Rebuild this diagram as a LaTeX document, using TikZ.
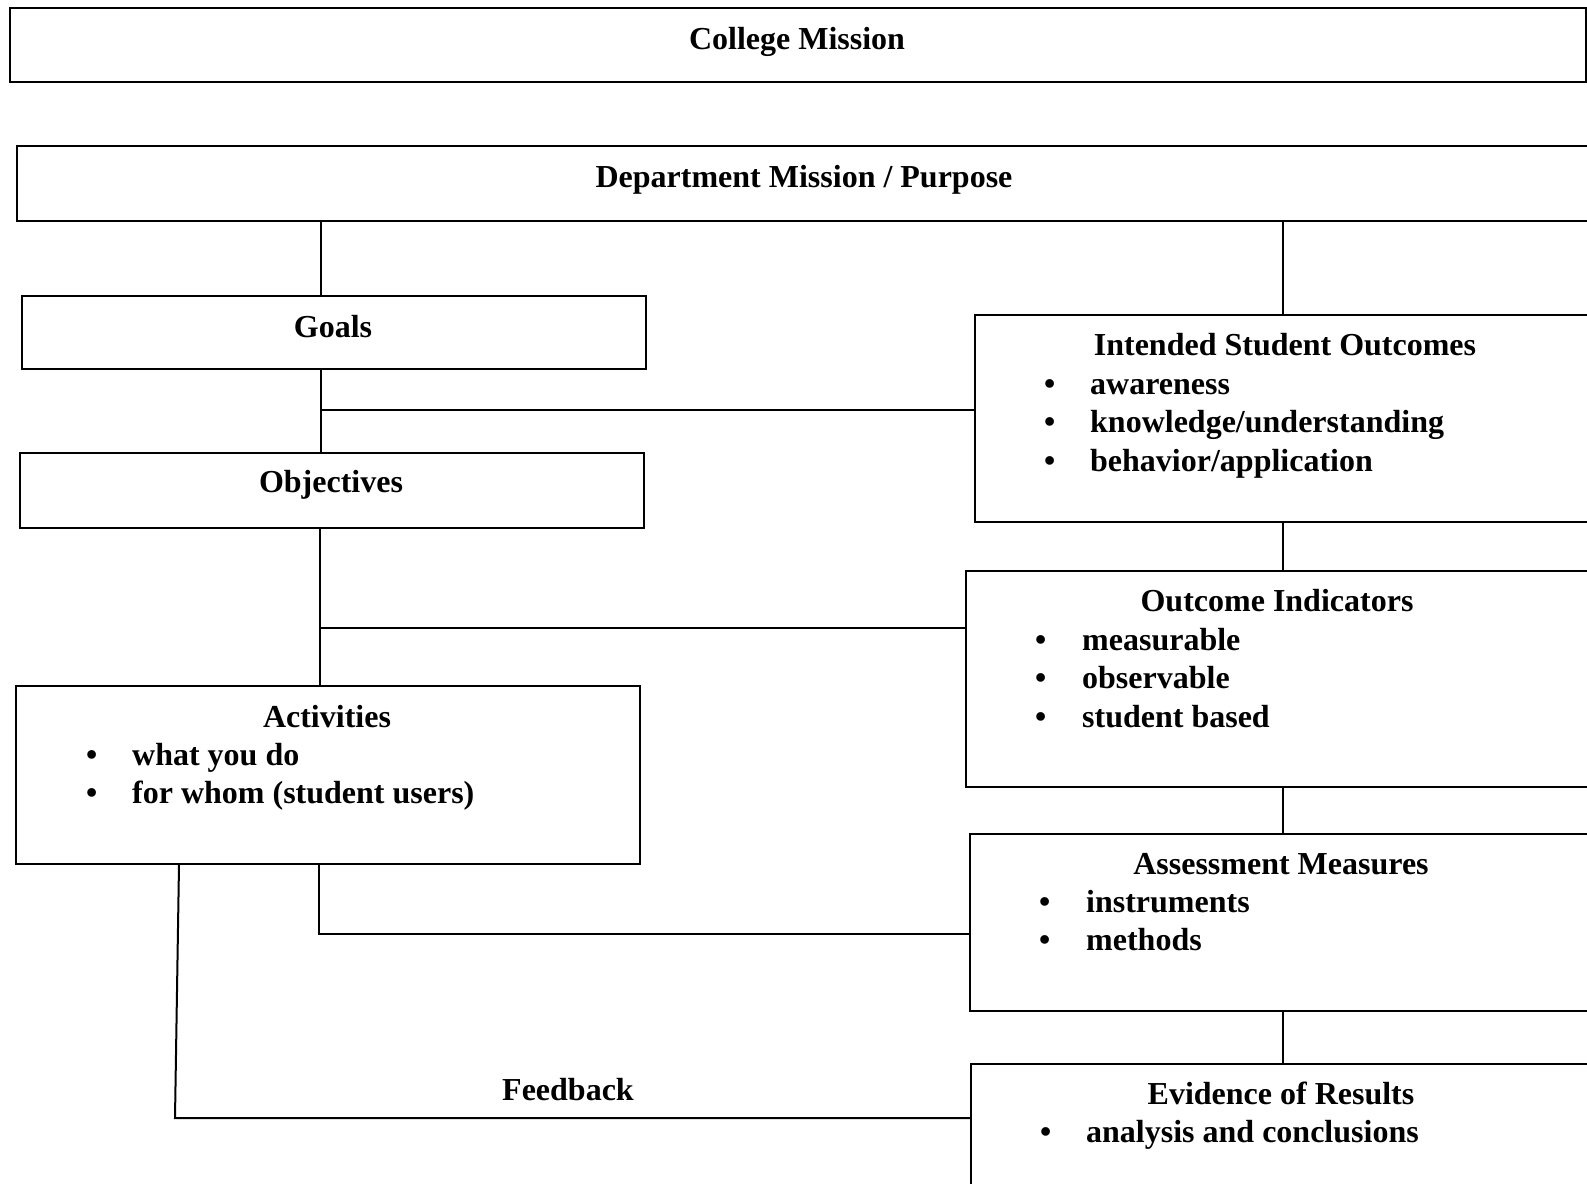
\documentclass[tikz,border=0pt]{standalone}
\usepackage{fontspec}
\setmainfont{Liberation Serif}

\begin{document}
\begin{tikzpicture}
[
    x=1pt, y=-1pt,
    box/.style={draw, line width=2pt, anchor=north west, inner sep=0pt},
    head/.style={font=\fontsize{32}{38.5}\selectfont\bfseries, anchor=base, inner sep=0pt},
    item/.style={font=\fontsize{32}{38.5}\selectfont\bfseries, anchor=base west, inner sep=0pt},
    link/.style={line width=2pt},
]
\useasboundingbox (0,0) rectangle (1587,1183);

% boxes
\node[box, minimum width=1576pt, minimum height=74pt] (college) at (9,7) {};
\node[box, minimum width=1600pt, minimum height=75pt] (dept) at (16,145) {};
\node[box, minimum width=624pt, minimum height=73pt] (goals) at (21,295) {};
\node[box, minimum width=624pt, minimum height=75pt] (obj) at (19,452) {};
\node[box, minimum width=624pt, minimum height=178pt] (acts) at (15,685) {};
\node[box, minimum width=700pt, minimum height=207pt] (iso) at (974,314) {};
\node[box, minimum width=700pt, minimum height=216pt] (oi) at (965,570) {};
\node[box, minimum width=700pt, minimum height=177pt] (am) at (969,833) {};
\node[box, minimum width=700pt, minimum height=300pt] (evid) at (970,1063) {};

% headings
\node[head] (collegeT) at (797,49) {College Mission};
\node[head] (deptT) at (804,187) {Department Mission / Purpose};
\node[head] (goalsT) at (333,337) {Goals};
\node[head] (objT) at (331,492) {Objectives};
\node[head] (actsT) at (327,727) {Activities};
\node[head] (isoT) at (1285,355) {Intended Student Outcomes};
\node[head] (oiT) at (1277,611) {Outcome Indicators};
\node[head] (amT) at (1281,874) {Assessment Measures};
\node[head] (evidT) at (1281,1104) {Evidence of Results};
\node[head] (fbT) at (568,1100) {Feedback};

% bullet lists
\foreach \t [count=\i from 0] in {what you do, for whom (student users)}
  \node[item] (acts\i) at (86,{765+38.8*\i}) {\makebox[46pt][l]{\textbullet}\t};
\foreach \t [count=\i from 0] in {awareness, {knowledge/understanding}, {behavior/application}}
  \node[item] (iso\i) at (1044,{394+38.8*\i}) {\makebox[46pt][l]{\textbullet}\t};
\foreach \t [count=\i from 0] in {measurable, observable, student based}
  \node[item] (oi\i) at (1035,{650+38.8*\i}) {\makebox[47pt][l]{\textbullet}\t};
\foreach \t [count=\i from 0] in {instruments, methods}
  \node[item] (am\i) at (1039,{912+38.8*\i}) {\makebox[47pt][l]{\textbullet}\t};
\node[item] (evid0) at (1040,1142) {\makebox[46pt][l]{\textbullet}analysis and conclusions};

% connectors
\coordinate (lx) at (321,0);
\coordinate (rx) at (1283,0);
\coordinate (tie1) at (321,410);
\coordinate (tie2) at (320,628);
\coordinate (tie3) at (319,934);
\coordinate (fb) at (179,0);
\coordinate (fbcorner) at (175,1118);

\draw[link] (dept.south -| lx) -- (goals.north -| lx);
\draw[link] (goals.south -| lx) -- (obj.north -| lx);
\draw[link] (tie1) -- (tie1 -| iso.west);
\draw[link] (obj.south -| tie2) -- (acts.north -| tie2);
\draw[link] (tie2) -- (tie2 -| oi.west);
\draw[link] (acts.south -| tie3) -- (tie3) -- (tie3 -| am.west);
\draw[link] (acts.south -| fb) -- (fbcorner) -- (fbcorner -| evid.west);

\draw[link] (dept.south -| rx) -- (iso.north -| rx);
\draw[link] (iso.south -| rx) -- (oi.north -| rx);
\draw[link] (oi.south -| rx) -- (am.north -| rx);
\draw[link] (am.south -| rx) -- (evid.north -| rx);
\end{tikzpicture}
\end{document}
